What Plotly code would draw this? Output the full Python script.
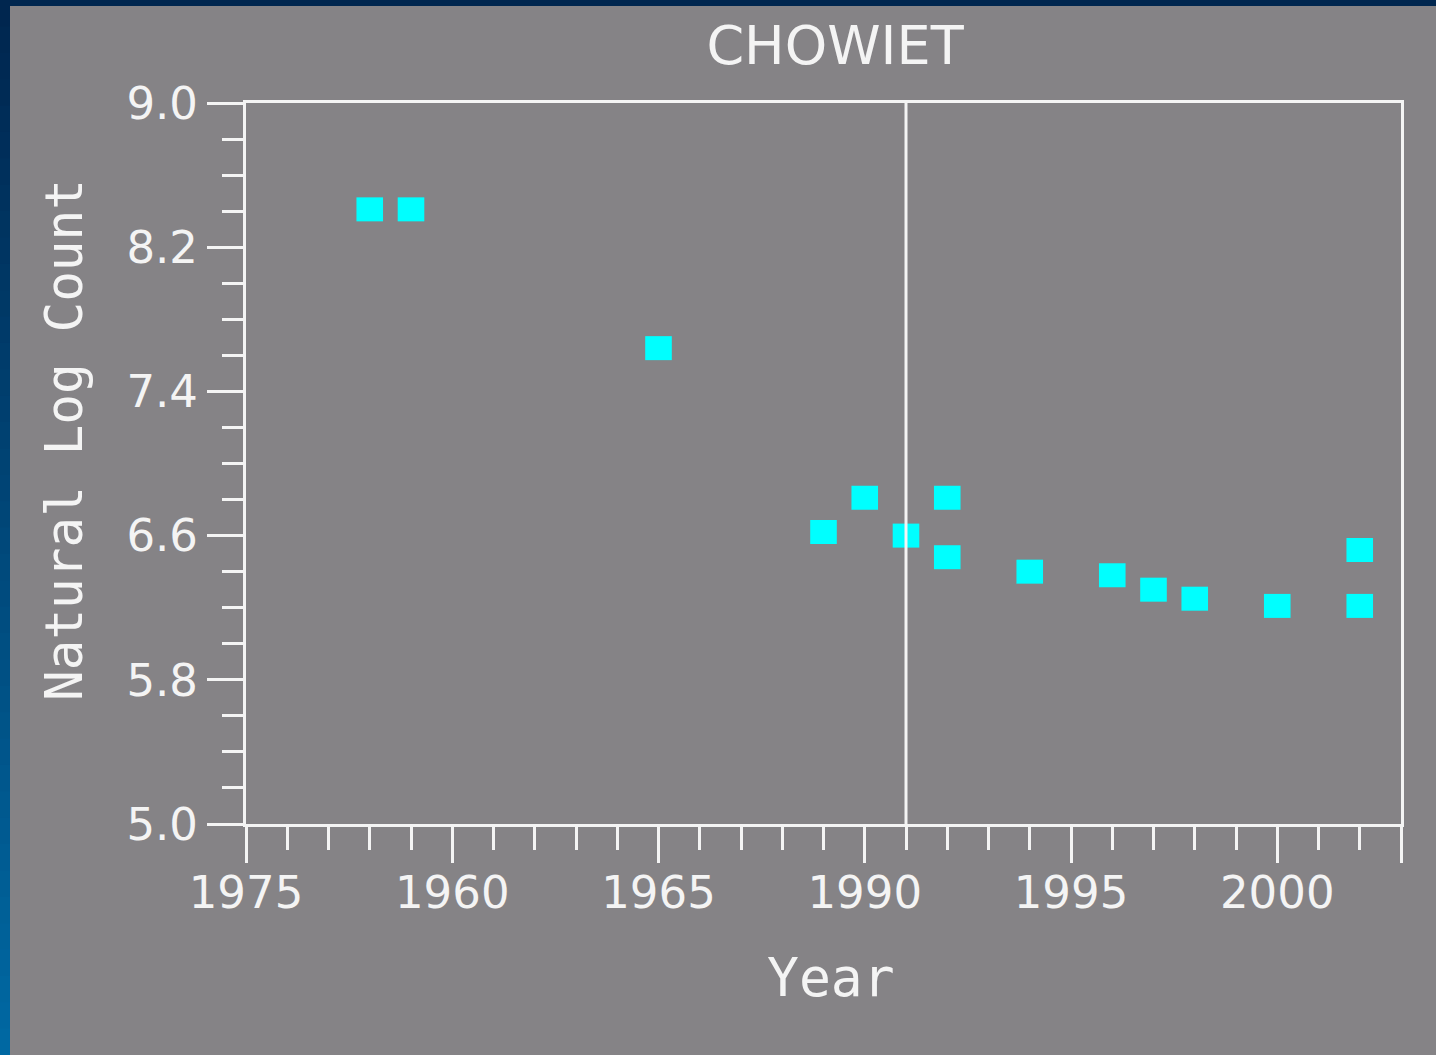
import plotly.graph_objects as go

# ---- data ----
years = [1978, 1979, 1985, 1989, 1990, 1991, 1992, 1992, 1994, 1996, 1997, 1998, 2000, 2002, 2002]
log_counts = [8.41, 8.41, 7.64, 6.62, 6.81, 6.60, 6.81, 6.48, 6.40, 6.38, 6.30, 6.25, 6.21, 6.52, 6.21]

x_tick_vals = [1975, 1980, 1985, 1990, 1995, 2000, 2003]
x_tick_text = ["1975", "1960", "1965", "1990", "1995", "2000", ""]
y_tick_vals = [5.0, 5.8, 6.6, 7.4, 8.2, 9.0]
y_tick_text = ["5.0", "5.8", "6.6", "7.4", "8.2", "9.0"]
ref_year = 1991

title_text = "CHOWIET"
x_title = "Year"
y_title = "Natural Log Count"

# ---- style ----
GRAY = "#858386"
WHITE = "#f4f4f4"
CYAN = "#00ffff"
FONT = "DejaVu Sans"
MONO = "DejaVu Sans Mono"

W, H = 1436, 1055
ML, MR, MT, MB = 246, 35, 103, 231
PW, PH = W - ML - MR, H - MT - MB


def px_to_paper_x(px):
    return (px - ML) / PW


def px_to_paper_y(py):
    return 1 - (py - MT) / PH


fig = go.Figure()

fig.add_trace(go.Scatter(
    x=years, y=log_counts, mode="markers",
    marker=dict(symbol="line-ew", size=19, color=CYAN,
                line=dict(width=24, color=CYAN)),
    showlegend=False, hoverinfo="x+y",
))

shapes = []
# reference vertical line
shapes.append(dict(type="line", xref="x", yref="paper", x0=ref_year, x1=ref_year,
                   y0=0, y1=1, line=dict(color=WHITE, width=3), layer="above"))

# decorative border strips (top navy, left gradient)
shapes.append(dict(type="rect", xref="paper", yref="paper",
                   x0=px_to_paper_x(0), x1=px_to_paper_x(W),
                   y0=px_to_paper_y(6), y1=px_to_paper_y(0),
                   fillcolor="#00264f", line=dict(width=0), layer="below"))
n_seg = 40
c0 = (0, 0x26, 0x4f)
c1 = (0, 0x68, 0xa2)
for i in range(n_seg):
    t = i / (n_seg - 1)
    col = "rgb(%d,%d,%d)" % tuple(round(a + (b - a) * t) for a, b in zip(c0, c1))
    y_top = H * i / n_seg
    y_bot = H * (i + 1) / n_seg + 1
    shapes.append(dict(type="rect", xref="paper", yref="paper",
                       x0=px_to_paper_x(0), x1=px_to_paper_x(10),
                       y0=px_to_paper_y(y_bot), y1=px_to_paper_y(y_top),
                       fillcolor=col, line=dict(width=0), layer="below"))

axis_common = dict(
    showgrid=False, zeroline=False,
    showline=True, linecolor=WHITE, linewidth=3, mirror=True,
    ticks="outside", tickcolor=WHITE, tickwidth=3, ticklen=36,
    tickfont=dict(family=FONT, size=45, color=WHITE),
)

annotations = [
    dict(text=x_title, xref="paper", yref="paper",
         x=px_to_paper_x(831), y=px_to_paper_y(978),
         xanchor="center", yanchor="middle", showarrow=False,
         font=dict(family=MONO, size=53, color=WHITE)),
    dict(text=y_title, xref="paper", yref="paper",
         x=px_to_paper_x(64), y=px_to_paper_y(440),
         xanchor="center", yanchor="middle", showarrow=False, textangle=-90,
         font=dict(family=MONO, size=51, color=WHITE)),
]

fig.update_layout(
    width=W, height=H,
    margin=dict(l=ML, r=MR, t=MT, b=MB),
    paper_bgcolor=GRAY, plot_bgcolor=GRAY,
    title=dict(text=title_text, x=835 / W, xref="container", xanchor="center",
               y=1 - 45 / H, yref="container", yanchor="middle",
               font=dict(family=FONT, size=54, color=WHITE)),
    xaxis=dict(axis_common, range=[1975, 2003], tickmode="array",
               tickvals=x_tick_vals, ticktext=x_tick_text, ticklabelstandoff=-9,
               minor=dict(tickmode="linear", tick0=1975, dtick=1, ticks="outside",
                          ticklen=23, tickwidth=3, tickcolor=WHITE)),
    yaxis=dict(axis_common, range=[5.0, 9.0], tickmode="array",
               tickvals=y_tick_vals, ticktext=y_tick_text,
               minor=dict(tickmode="linear", tick0=5.0, dtick=0.2, ticks="outside",
                          ticklen=21, tickwidth=3, tickcolor=WHITE)),
    shapes=shapes,
    annotations=annotations,
)

fig.write_html(
    "out.html",
    config={"displayModeBar": False},
    post_script="document.body.style.margin='0px';document.body.style.overflow='hidden';",
)
